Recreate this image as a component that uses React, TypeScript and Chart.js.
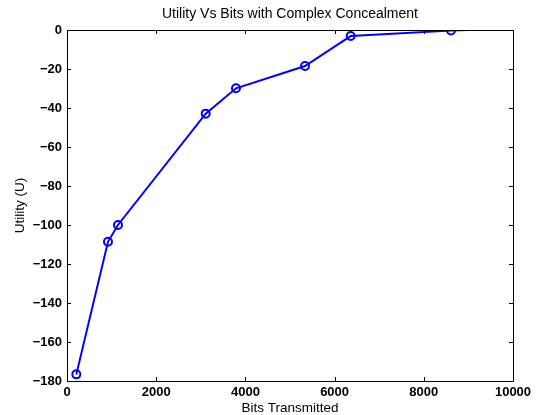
import React, { useEffect, useRef } from "react";
import { Chart, registerables } from "chart.js";

Chart.register(...registerables);

// Bits transmitted vs. resulting utility (complex concealment)
const bitsTransmitted = [209, 919, 1143, 3110, 3789, 5336, 6360, 8610, 9006];
const utility = [-176.6, -108.6, -100.0, -42.9, -29.9, -18.5, -3.1, -0.3, 0];
// the final segment runs to the axis edge without a marker
const showMarker = [true, true, true, true, true, true, true, true, false];

const xTicks = [0, 2000, 4000, 6000, 8000, 10000];
const yTicks = [-180, -160, -140, -120, -100, -80, -60, -40, -20, 0];

const FONT = "'Liberation Sans', Arial, Helvetica, sans-serif";

const fmt = (v: number) => (v < 0 ? "\u2212" + String(Math.abs(v)) : String(v));

// Draws the boxed axes with inward-facing ticks on all four sides
const boxTicks = {
  id: "boxTicks",
  afterDraw(chart: any) {
    const { ctx, chartArea } = chart;
    const { left, right, top, bottom } = chartArea;
    const xs = chart.scales.x;
    const ys = chart.scales.y;
    const len = 4;
    ctx.save();
    ctx.strokeStyle = "#000";
    ctx.lineWidth = 1;
    ctx.beginPath();
    ctx.rect(Math.round(left) + 0.5, Math.round(top) + 0.5, Math.round(right - left), Math.round(bottom - top));
    ctx.stroke();
    ctx.beginPath();
    for (const t of xTicks) {
      const px = Math.round(xs.getPixelForValue(t)) + 0.5;
      ctx.moveTo(px, bottom);
      ctx.lineTo(px, bottom - len);
      ctx.moveTo(px, top);
      ctx.lineTo(px, top + len);
    }
    for (const t of yTicks) {
      const py = Math.round(ys.getPixelForValue(t)) + 0.5;
      ctx.moveTo(left, py);
      ctx.lineTo(left + len, py);
      ctx.moveTo(right, py);
      ctx.lineTo(right - len, py);
    }
    ctx.stroke();
    ctx.restore();
  },
};

export default function App() {
  const ref = useRef<HTMLCanvasElement | null>(null);

  useEffect(() => {
    if (!ref.current) return;
    const chart = new Chart(ref.current, {
      type: "line",
      data: {
        datasets: [
          {
            data: bitsTransmitted.map((x, i) => ({ x, y: utility[i] })),
            borderColor: "#0000ff",
            borderWidth: 2,
            backgroundColor: "rgba(0,0,0,0)",
            pointRadius: showMarker.map((m) => (m ? 4 : 0)),
            pointBorderWidth: 2,
            pointBorderColor: "#0000ff",
            pointBackgroundColor: "rgba(0,0,0,0)",
            tension: 0,
          },
        ],
      },
      options: {
        responsive: false,
        animation: false,
        events: [],
        layout: { padding: { top: 0, right: 23, bottom: 0, left: 0 } },
        plugins: {
          legend: { display: false },
          tooltip: { enabled: false },
          title: {
            display: true,
            fullSize: false,
            text: "Utility Vs Bits with Complex Concealment",
            color: "#000",
            font: { family: FONT, size: 14, weight: "normal" },
            padding: { top: 6, bottom: 7.2 },
          },
        },
        scales: {
          x: {
            type: "linear",
            min: 0,
            max: 10000,
            afterBuildTicks: (s: any) => {
              s.ticks = xTicks.map((v) => ({ value: v }));
            },
            afterFit: (s: any) => {
              s.height = 34;
              s.paddingLeft = 0;
              s.paddingRight = 0;
            },
            grid: { display: false, drawTicks: false },
            border: { display: false },
            ticks: {
              color: "#000",
              padding: 4,
              maxRotation: 0,
              autoSkip: false,
              font: { family: FONT, size: 13, weight: "bold" },
              callback: (v: any) => fmt(Number(v)),
            },
            title: {
              display: true,
              text: "Bits Transmitted",
              color: "#000",
              font: { family: FONT, size: 13.5, weight: "normal" },
              padding: { top: 0, bottom: -1 },
            },
          },
          y: {
            type: "linear",
            min: -180,
            max: 0,
            afterBuildTicks: (s: any) => {
              s.ticks = yTicks.map((v) => ({ value: v }));
            },
            afterFit: (s: any) => {
              s.width = 67;
              s.paddingTop = 0;
              s.paddingBottom = 0;
            },
            grid: { display: false, drawTicks: false },
            border: { display: false },
            ticks: {
              color: "#000",
              padding: 5,
              autoSkip: false,
              font: { family: FONT, size: 13, weight: "bold" },
              callback: (v: any) => fmt(Number(v)),
            },
            title: {
              display: true,
              text: "Utility (U)",
              color: "#000",
              font: { family: FONT, size: 13.5, weight: "normal" },
              padding: { top: 12, bottom: 0 },
            },
          },
        },
      },
      plugins: [boxTicks],
    });
    return () => chart.destroy();
  }, []);

  return (
    <div style={{ position: "fixed", left: 0, top: 0, width: 536, height: 415, background: "#fff" }}>
      <canvas ref={ref} width={536} height={415} style={{ display: "block" }} />
    </div>
  );
}
